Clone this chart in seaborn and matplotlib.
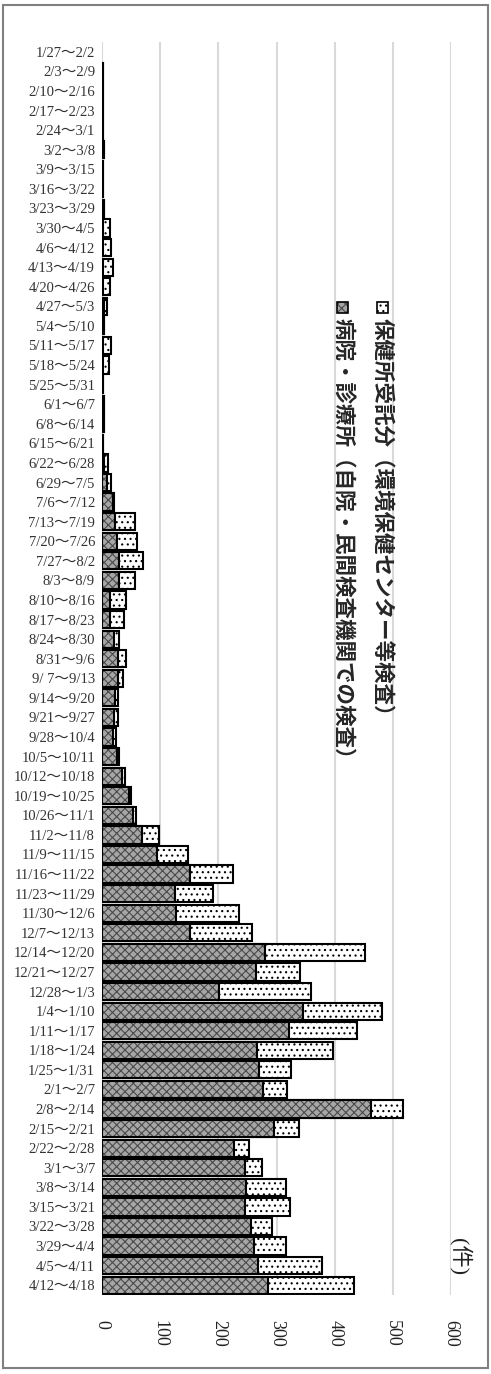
import pandas as pd
import matplotlib.pyplot as plt
import seaborn as sns
from matplotlib.patches import Rectangle

# weekly PCR test counts (hospital / health-center)
weeks = [
    "1/27～2/2", "2/3～2/9", "2/10～2/16", "2/17～2/23", "2/24～3/1",
    "3/2～3/8", "3/9～3/15", "3/16～3/22", "3/23～3/29", "3/30～4/5",
    "4/6～4/12", "4/13～4/19", "4/20～4/26", "4/27～5/3", "5/4～5/10",
    "5/11～5/17", "5/18～5/24", "5/25～5/31", "6/1～6/7", "6/8～6/14",
    "6/15～6/21", "6/22～6/28", "6/29～7/5", "7/6～7/12", "7/13～7/19",
    "7/20～7/26", "7/27～8/2", "8/3～8/9", "8/10～8/16", "8/17～8/23",
    "8/24～8/30", "8/31～9/6", "9/ 7～9/13", "9/14～9/20", "9/21～9/27",
    "9/28～10/4", "10/5～10/11", "10/12～10/18", "10/19～10/25", "10/26～11/1",
    "11/2～11/8", "11/9～11/15", "11/16～11/22", "11/23～11/29", "11/30～12/6",
    "12/7～12/13", "12/14～12/20", "12/21～12/27", "12/28～1/3", "1/4～1/10",
    "1/11～1/17", "1/18～1/24", "1/25～1/31", "2/1～2/7", "2/8～2/14",
    "2/15～2/21", "2/22～2/28", "3/1～3/7", "3/8～3/14", "3/15～3/21",
    "3/22～3/28", "3/29～4/4", "4/5～4/11", "4/12～4/18",
]

hospital = [
    0, 1, 2, 2, 2, 3, 2, 2, 4, 2,
    2, 2, 2, 3, 3, 2, 2, 2, 3, 3,
    2, 3, 8, 19, 22, 26, 30, 30, 13, 14,
    21, 28, 28, 22, 21, 19, 26, 35, 46, 54,
    68, 94, 151, 125, 127, 152, 280, 264, 201, 345,
    321, 267, 270, 277, 462, 296, 227, 245, 247, 246,
    257, 261, 269, 286,
]

center = [
    0, 0, 0, 0, 0, 0, 0, 0, 0, 12,
    14, 17, 12, 6, 1, 13, 10, 0, 0, 0,
    0, 7, 7, 2, 35, 34, 41, 27, 28, 24,
    9, 13, 8, 5, 6, 5, 4, 5, 4, 4,
    30, 53, 74, 66, 108, 106, 172, 76, 159, 137,
    117, 130, 55, 41, 56, 42, 26, 30, 69, 77,
    36, 55, 110, 148,
]

x_ticks = [0, 100, 200, 300, 400, 500, 600]
legend_center = "保健所受託分（環境保健センター等検査）"
legend_hospital = "病院・診療所（自院・民間検査機関での検査）"
unit_label = "(件)"

sns.set_style("white")
plt.rcParams['font.family'] = ['Liberation Serif', 'Noto Sans CJK JP']
plt.rcParams['hatch.linewidth'] = 0.8

df = pd.DataFrame({"week": weeks, "hospital": hospital, "center": center})
df["total"] = df.hospital + df.center

W, H = 491, 1374
fig = plt.figure(figsize=(W / 100, H / 100), dpi=100)
ax = fig.add_axes([102 / W, 79 / H, 349 / W, 1253 / H])

HOSP_FACE = "#a6a6a6"
HOSP_HATCH = "#4a4a4a"

# whole bar (dotted part shows the health-center share)
sns.barplot(data=df, x="total", y="week", orient="h", color="white",
            saturation=1, edgecolor="black", linewidth=1.5, width=0.88,
            hatch="...", errorbar=None, ax=ax)
# hospital part: gray texture, then a black outline on top
sns.barplot(data=df, x="hospital", y="week", orient="h", color=HOSP_FACE,
            saturation=1, edgecolor=HOSP_HATCH, linewidth=0, width=0.88,
            hatch="xxxx", errorbar=None, ax=ax)
sns.barplot(data=df, x="hospital", y="week", orient="h", color="black",
            fill=False, linewidth=1.5, width=0.88, errorbar=None, ax=ax)

for p in ax.patches:
    if p.get_width() == 0:
        p.set_linewidth(0)

ax.set_xlim(0, 600)
ax.set_xticks(x_ticks)
ax.set_xlabel(None)
ax.set_ylabel(None)
ax.tick_params(axis="x", labelrotation=-90, labelsize=13, pad=18, length=0,
               labelcolor="#222222")
ax.tick_params(axis="y", labelsize=10.5, pad=5, length=0, labelcolor="#333333")
for s in ax.spines.values():
    s.set_visible(False)
ax.xaxis.grid(True, color="#d9d9d9", linewidth=1.5)
ax.yaxis.grid(False)
ax.set_axisbelow(True)

# legend drawn by hand, text runs top to bottom
cjk = ['Noto Sans CJK JP', 'DejaVu Sans']
fig.add_artist(Rectangle((377 / W, 1 - 313 / H), 11 / W, 11 / H,
                         transform=fig.transFigure, facecolor="white",
                         edgecolor="black", linewidth=1.2, hatch="..."))
fig.text(382 / W, 1 - 318 / H, legend_center, rotation=-90, ha="center",
         va="top", fontsize=15.5, fontweight="bold", family=cjk)
fig.add_artist(Rectangle((337 / W, 1 - 313 / H), 11 / W, 11 / H,
                         transform=fig.transFigure, facecolor=HOSP_FACE,
                         edgecolor=HOSP_HATCH, linewidth=0, hatch="xxxx"))
fig.add_artist(Rectangle((337 / W, 1 - 313 / H), 11 / W, 11 / H,
                         transform=fig.transFigure, fill=False,
                         edgecolor="black", linewidth=1.2))
fig.text(343 / W, 1 - 318 / H, legend_hospital, rotation=-90, ha="center",
         va="top", fontsize=15.5, fontweight="bold", family=cjk)

fig.text(460 / W, 1 - 1257 / H, unit_label, rotation=-90, ha="center",
         va="center", fontsize=16, color="#222222")

# outer frame
fig.add_artist(Rectangle((3 / W, 6 / H), 485 / W, 1363 / H,
                         transform=fig.transFigure, fill=False,
                         edgecolor="#808080", linewidth=1.5))

fig.savefig("out.png", dpi=100)
